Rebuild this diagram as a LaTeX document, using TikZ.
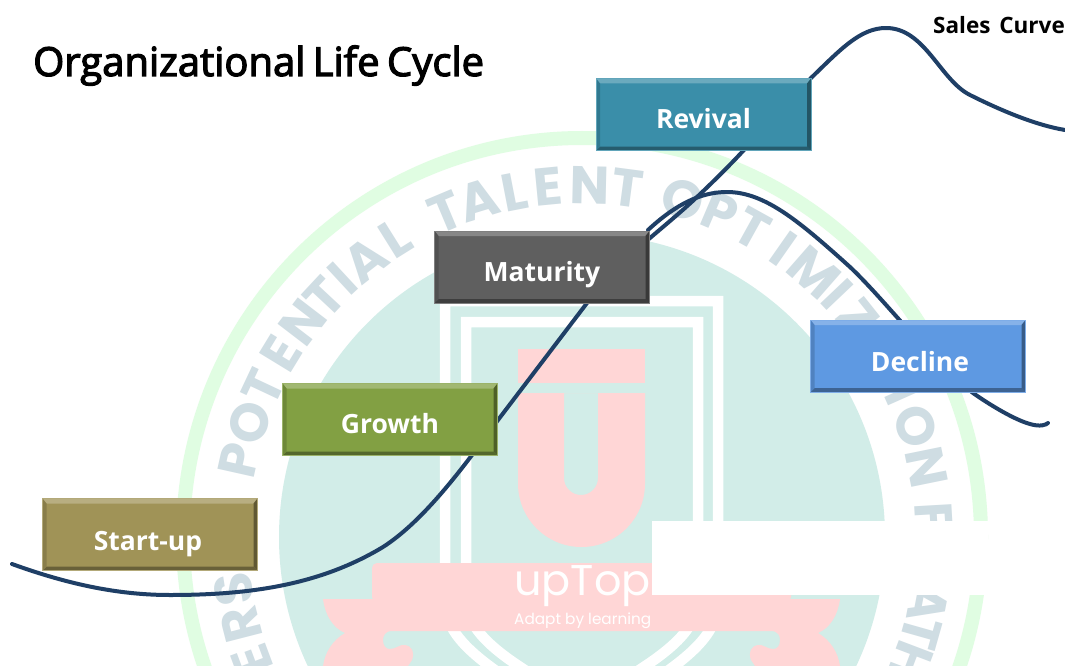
\documentclass[tikz,border=0pt]{standalone}
\usepackage{fontspec}
\setmainfont{Open Sans}
\newfontfamily\semib[FakeBold=3]{Open Sans}
\newfontfamily\popp{Poppins}
\definecolor{teal0}{HTML}{D2EDE8}
\definecolor{green0}{HTML}{E0FDE2}
\definecolor{letter0}{HTML}{CFDDE3}
\definecolor{pink0}{HTML}{FFD6D6}
\definecolor{curve0}{HTML}{1F3F66}
\definecolor{boxolive}{HTML}{A09357}
\definecolor{boxgreen}{HTML}{82A043}
\definecolor{boxgray}{HTML}{5F5F5F}
\definecolor{boxteal}{HTML}{3A8EA9}
\definecolor{boxblue}{HTML}{5E99E2}
\newcommand{\boxlab}[3][0pt]{\hspace*{#1}\raisebox{-#2pt}[0pt][0pt]{#3}}
\tikzset{
  bevelbox/.style={rectangle, minimum width=215pt, minimum height=72pt, inner sep=0pt,
    fill=#1, draw=#1!80!white, line width=1pt, text=white,
    font=\fontsize{26.5}{30}\selectfont\bfseries,
    path picture={
      \fill[#1!75!white] (path picture bounding box.north west) -- (path picture bounding box.north east)
        -- ([xshift=-4pt,yshift=-5pt]path picture bounding box.north east) -- ([xshift=4pt,yshift=-5pt]path picture bounding box.north west) -- cycle;
      \fill[#1!65!black] (path picture bounding box.south west) -- (path picture bounding box.south east)
        -- ([xshift=-4pt,yshift=4pt]path picture bounding box.south east) -- ([xshift=4pt,yshift=4pt]path picture bounding box.south west) -- cycle;
      \fill[#1!60!black] (path picture bounding box.north east) -- (path picture bounding box.south east)
        -- ([xshift=-4pt,yshift=4pt]path picture bounding box.south east) -- ([xshift=-4pt,yshift=-5pt]path picture bounding box.north east) -- cycle;
      \fill[#1!85!black] (path picture bounding box.north west) -- (path picture bounding box.south west)
        -- ([xshift=4pt,yshift=4pt]path picture bounding box.south west) -- ([xshift=4pt,yshift=-5pt]path picture bounding box.north west) -- cycle;
    }},
  wmletter/.style={text=letter0, inner sep=0pt, font=\fontsize{53}{53}\selectfont\popp\bfseries},
  salescurve/.style={draw=curve0, line width=4pt, line cap=round, line join=round},
  shieldline/.style={draw=white, line width=10.5pt}
}
\begin{document}
\begin{tikzpicture}[x=1pt,y=-1pt]
\useasboundingbox (0,0) rectangle (1065,666);
\fill[white] (0,0) rectangle (1065,666);
\begin{scope}
\clip (0,0) rectangle (1065,666);
% watermark
\draw[green0, line width=14pt] (582,537) circle (399);
\fill[teal0] (582,537) circle (303);
\foreach \a/\l [count=\i] in {200.5/E,194.4/R,188.6/S,167.4/P,161/O,154.8/T,148.6/E,142.5/N,137/T,132.8/I,128/A,122/L,
  112.8/T,107/A,101/L,95.5/E,88.7/N,82.5/T,73.3/O,66.9/P,61/T,55/I,48.8/M,43.5/I,38.5/Z,33/A,28/T,24/I,18.4/O,11.5/N,3.3/F,-10.9/A,-15.8/T,-20.8/H}
  \node[wmletter, rotate=\a-90] (wl\i) at ({582+352*cos(\a)}, {537-352*sin(\a)}) {\l};
\draw[shieldline] (445,301) -- (718,301) -- (718,600) .. controls (718,640) and (683,665) .. (582,725) .. controls (481,665) and (445,640) .. (445,600) -- cycle;
\draw[shieldline] (466,322) -- (698,322) -- (698,600) .. controls (696,640) and (648,665) .. (582,705) .. controls (516,665) and (468,640) .. (466,600) -- cycle;
% U
\fill[pink0] (518,349) rectangle (645,383);
\fill[pink0, even odd rule] (518,393) -- (645,393) -- (645,483.5) arc[start angle=0,end angle=180,radius=63.5] -- cycle
  (564,393) -- (598,393) -- (598,478) arc[start angle=0,end angle=180,radius=17] -- cycle;
% banner
\fill[pink0, rounded corners=5pt] (372,563) -- (791,563) -- (791,602) -- (372,602) -- cycle;
\fill[pink0] (323,599) -- (840,599) .. controls (838,615) and (830,628) .. (818,633)
  .. controls (830,640) and (838,652) .. (840,666) -- (755,666) -- (751,660) .. controls (748,652) and (751,646) .. (758,645)
  .. controls (763,644) and (767,649) .. (773,649) .. controls (777,649) and (780,646) .. (780,640)
  .. controls (780,636) and (778,631) .. (771,631)
  -- (392,631) .. controls (385,631) and (383,636) .. (383,640) .. controls (383,646) and (386,649) .. (390,649)
  .. controls (396,649) and (400,644) .. (405,645) .. controls (412,646) and (415,652) .. (412,660) -- (408,666)
  -- (323,666) .. controls (325,652) and (333,640) .. (345,633)
  .. controls (333,628) and (325,615) .. (323,599) -- cycle;
\node[anchor=base west, inner sep=0pt, text=white, font=\fontsize{43}{43}\selectfont\popp] (ut) at (514,595) {upTop};
\node[anchor=base west, inner sep=0pt, text=white, font=\fontsize{15.3}{16}\selectfont\popp] (ua) at (514,624) {Adapt by learning};
\fill[white] (652,521) rectangle (988,595);
\end{scope}
% curves
\draw[salescurve] (12,564) .. controls (70,585) and (120,595) .. (170,595) .. controls (250,595) and (320,585) .. (383,547) .. controls (425,520) and (465,465) .. (498,420) -- (587,303) .. controls (620,258) and (660,232) .. (697,197) .. controls (715,180) and (730,165) .. (743,151) -- (811,78) .. controls (840,50) and (860,28) .. (886,28) .. controls (925,28) and (940,80) .. (970,95) .. controls (1000,110) and (1035,125) .. (1065,130);
\draw[salescurve] (648,230) .. controls (675,205) and (700,192) .. (727,192) .. controls (765,192) and (800,222) .. (850,267) .. controls (885,300) and (930,360) .. (973,393) .. controls (990,405) and (1015,420) .. (1030,424) .. controls (1040,427) and (1046,425) .. (1048,423);
% boxes
\node[bevelbox=boxolive] (startup) at (150,534.5) {\hspace*{-4pt}\boxlab{15.5}{Start-up}};
\node[bevelbox=boxgreen] (growth) at (390,419.5) {\boxlab{13.5}{Growth}};
\node[bevelbox=boxgray] (maturity) at (542,267) {\boxlab{14}{Maturity}};
\node[bevelbox=boxteal] (revival) at (703.5,114.5) {\boxlab{14}{Revival}};
\node[bevelbox=boxblue] (decline) at (918,356) {\boxlab[4pt]{15}{Decline}};
% titles
\node[anchor=base west, inner sep=0pt, font=\fontsize{40}{42}\selectfont\semib, text=black] (title) at (33,76) {Organizational\hspace{-3pt} Life\hspace{-3pt} Cycle};
\node[anchor=base east, inner sep=0pt, font=\fontsize{22.5}{24}\selectfont\bfseries, text=black] (sales) at (1065,34) {Sales\hspace{3pt} Curve};
\end{tikzpicture}
\end{document}
